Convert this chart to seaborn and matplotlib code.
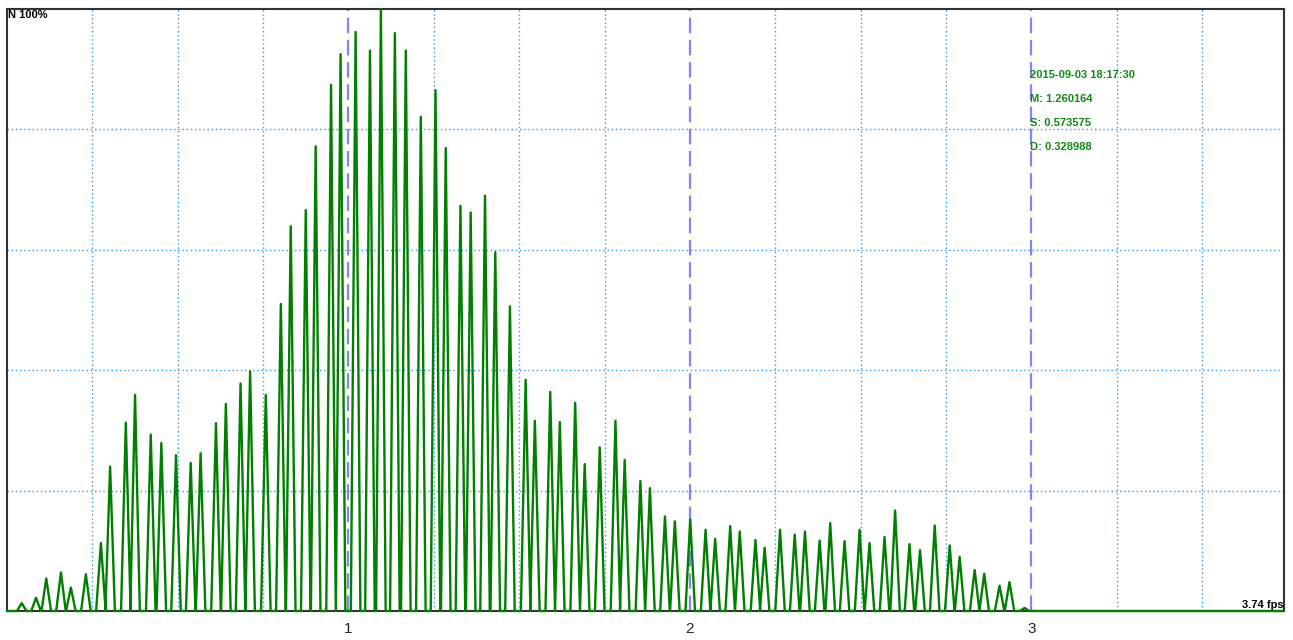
import matplotlib
matplotlib.use("Agg")
import matplotlib.pyplot as plt
import pandas as pd
import seaborn as sns

# Peak positions (fps) and heights (% of max)
fps = [0.043, 0.085, 0.115, 0.158, 0.187, 0.231, 0.275, 0.302, 0.348, 0.375,
       0.421, 0.452, 0.495, 0.538, 0.567, 0.612, 0.641, 0.684, 0.712, 0.758,
       0.802, 0.831, 0.875, 0.904, 0.949, 0.977, 1.021, 1.063, 1.095, 1.136,
       1.168, 1.212, 1.255, 1.285, 1.328, 1.358, 1.400, 1.430, 1.473, 1.519,
       1.546, 1.591, 1.619, 1.664, 1.692, 1.736, 1.782, 1.809, 1.855, 1.883,
       1.927, 1.956, 2.001, 2.046, 2.074, 2.118, 2.146, 2.192, 2.219, 2.264,
       2.307, 2.337, 2.380, 2.411, 2.453, 2.497, 2.526, 2.570, 2.601, 2.643,
       2.674, 2.717, 2.761, 2.790, 2.834, 2.862, 2.907, 2.936, 2.980]
pct = [1.3, 2.2, 5.4, 6.4, 3.9, 6.1, 11.3, 24.0, 31.3, 35.9,
       29.3, 27.9, 25.9, 24.6, 26.2, 31.2, 34.4, 37.8, 39.8, 35.9,
       51.0, 63.9, 66.6, 77.2, 87.4, 92.5, 96.2, 93.1, 100.0, 96.0,
       93.1, 82.1, 86.5, 76.9, 67.3, 66.2, 69.0, 59.6, 50.6, 38.4,
       31.6, 36.4, 31.4, 34.6, 24.4, 27.2, 31.6, 25.1, 21.6, 20.4,
       15.7, 14.9, 15.2, 13.5, 12.0, 14.1, 13.2, 11.8, 10.5, 13.5,
       12.7, 13.2, 11.7, 14.6, 11.6, 13.5, 11.3, 12.3, 16.7, 11.1,
       10.1, 14.2, 10.9, 9.0, 6.8, 6.2, 4.2, 4.8, 0.5]
x_max = 3.74
stats = ["2015-09-03 18:17:30", "M: 1.260164", "S: 0.573575", "D: 0.328988"]

# each bin drawn as a narrow spike that drops back to zero
hw = 0.014
xs, ys = [0.0], [0.0]
for c, h in zip(fps, pct):
    xs += [c - hw, c, c + hw]
    ys += [0.0, h, 0.0]
xs.append(x_max)
ys.append(0.0)
df = pd.DataFrame({"fps": xs, "pct": ys})

sns.set_style("white")
plt.rcParams['font.family'] = ['Liberation Sans', 'DejaVu Sans']

fig = plt.figure(figsize=(12.93, 6.4), dpi=100)
ax = fig.add_axes([7 / 1293, 29 / 640, 1277 / 1293, 602 / 640])

# grid
for v in [0.25, 0.5, 0.75, 1.25, 1.5, 1.75, 2.25, 2.5, 2.75, 3.25, 3.5]:
    ax.axvline(v, color='#3399ee', lw=1, ls=(0, (1, 2)), zorder=1)
for g in [20, 40, 60, 80]:
    ax.axhline(g, color='#3399ee', lw=1, ls=(0, (1, 2)), zorder=1)
for v in [1, 2, 3]:
    ax.axvline(v, color='#8585f2', lw=1.6, ls=(0, (7, 3)), zorder=1)

sns.lineplot(data=df, x="fps", y="pct", sort=False, estimator=None,
             color='#007f00', lw=1.7, ax=ax, zorder=3, clip_on=False)

ax.set_xlim(0, x_max)
ax.set_ylim(0, 100)
ax.set_xticks([1, 2, 3])
ax.set_xticklabels(["1", "2", "3"])
ax.set_yticks([])
ax.tick_params(axis='x', length=0, pad=8, labelsize=11)
ax.set_xlabel("")
ax.set_ylabel("")
for s in ax.spines.values():
    s.set_color('#333333')
    s.set_linewidth(1.5)

ax.text(0.001, 0.998, "N 100%", transform=ax.transAxes, ha='left', va='top',
        fontsize=8, fontweight='bold', color='black')
ax.text(0.9995, 0.005, "3.74 fps", transform=ax.transAxes, ha='right',
        va='baseline', fontsize=8, fontweight='bold', color='black')
for i, t in enumerate(stats):
    ax.text(0.801, 0.890 - i * 0.0399, t, transform=ax.transAxes, ha='left',
            va='center', fontsize=8, fontweight='bold', color='#108a10')

fig.savefig("out.png", dpi=100)
